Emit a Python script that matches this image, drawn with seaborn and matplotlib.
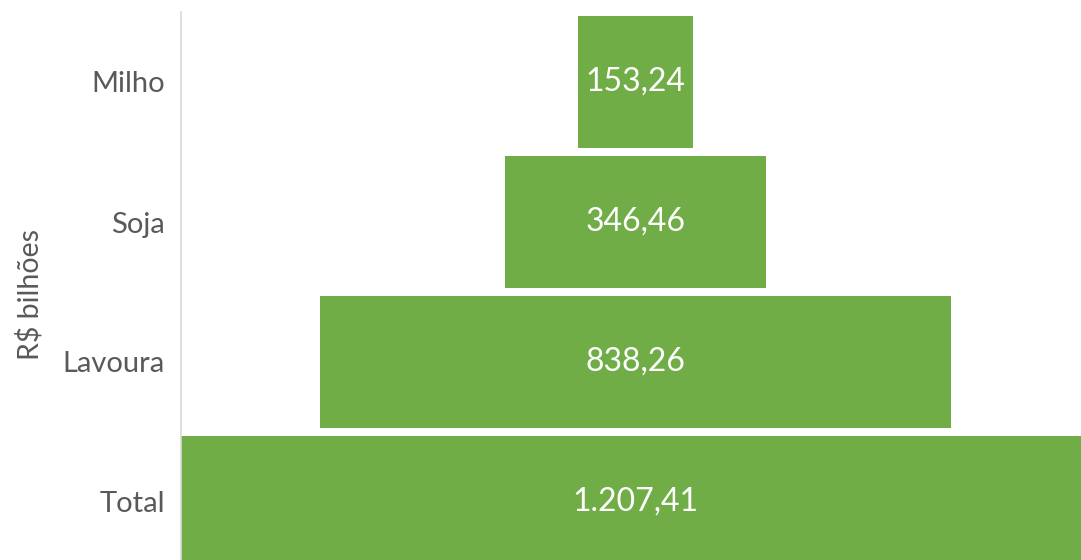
"""funnel chart of R$ bilhoes per segment"""
import matplotlib as mpl
mpl.use('Agg')
import matplotlib.pyplot as plt

import numpy as np
import pandas as pd
import seaborn as sns

# data
categories = ['Milho', 'Soja', 'Lavoura', 'Total']
values = [153.24, 346.46, 838.26, 1207.41]
axis_label = 'R$ bilhões'

green = '#70AD47'
gray = '#595959'


def br_format(v):
    """format number the brazilian way: 1.207,41"""
    s = f'{v:,.2f}'
    return s.replace(',', 'X').replace('.', ',').replace('X', '.')


sns.set_theme(style='white')
plt.rcParams.update({'font.family': ['Lato', 'DejaVu Sans']})

df = pd.DataFrame({'segment': categories, 'value': values})
df['half'] = df['value'] / 2
df['neg_half'] = -df['half']

fig = plt.figure(figsize=(10.81, 5.60), dpi=100)
ax = fig.add_axes([181 / 1081, -12 / 560, 900 / 1081, 1.0])

# symmetric funnel: one half to the right, one half to the left of zero
sns.barplot(data=df, x='half', y='segment', order=categories, color=green,
            saturation=1, width=0.936, linewidth=0, ax=ax)
sns.barplot(data=df, x='neg_half', y='segment', order=categories, color=green,
            saturation=1, width=0.936, linewidth=0, ax=ax)

for i, v in enumerate(values):
    ax.text(0, i, br_format(v), ha='center', va='center', color='white',
            fontsize=23)

ax.set_xlim(-values[-1] / 2, 592)
ax.set_ylim(3.5, -0.5)
ax.set_xlabel('')
ax.set_ylabel('')
ax.set_xticks([])
ax.tick_params(axis='y', length=0, pad=11.5, labelsize=21, labelcolor=gray)

for side in ['top', 'right', 'bottom']:
    ax.spines[side].set_visible(False)
ax.spines['left'].set_color('#D9D9D9')
ax.spines['left'].set_linewidth(1.2)
ax.spines['left'].set_zorder(5)

fig.text(30 / 1081, 1 - 295 / 560, axis_label, rotation=90, ha='center',
         va='center', color=gray, fontsize=20.5)

fig.savefig('out.png', dpi=100)
